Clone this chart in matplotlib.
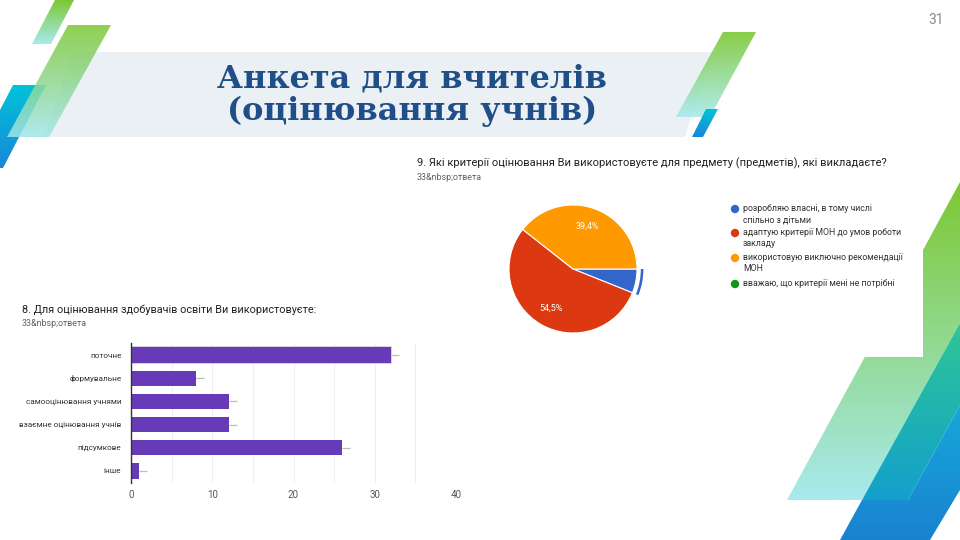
import numpy as np
import matplotlib
matplotlib.use('Agg')
import matplotlib.pyplot as plt
from matplotlib.patches import Polygon, Rectangle, Wedge, Circle
from matplotlib.colors import LinearSegmentedColormap

plt.rcParams['font.family'] = ['Roboto', 'DejaVu Sans']

# Data: question 8 (bar chart)
bar_title = '8. Для оцінювання здобувачів освіти Ви використовуєте:'
bar_labels = ['поточне', 'формувальне', 'самооцінювання учнями',
              'взаємне оцінювання учнів', 'підсумкове', 'інше']
bar_values = [32, 8, 12, 12, 26, 1]
bar_ticks = [0, 10, 20, 30, 40]

# Data: question 9 (pie chart)
pie_title = '9. Які критерії оцінювання Ви використовуєте для предмету (предметів), які викладаєте?'
pie_labels = ['розробляю власні, в тому числі\nспільно з дітьми',
              'адаптую критерії МОН до умов роботи\nзакладу',
              'використовую виключно рекомендації\nМОН',
              'вважаю, що критерії мені не потрібні']
pie_values = [2, 18, 13, 0]
pie_colors = ['#3366CC', '#DC3912', '#FF9900', '#109618']

responses = '33&nbsp;ответа'
slide_title = ['Анкета для вчителів', '(оцінювання учнів)']
page_no = '31'

W, H = 960, 540
fig = plt.figure(figsize=(9.6, 5.4), dpi=100)
fig.patch.set_facecolor('white')

bg = fig.add_axes([0, 0, 1, 1])
bg.set_xlim(0, W)
bg.set_ylim(H, 0)
bg.set_autoscale_on(False)
bg.axis('off')


def grad_poly(ax, pts, c_top, c_bot, alpha=1.0, z=1):
    poly = Polygon(pts, closed=True, facecolor='none', edgecolor='none')
    ax.add_patch(poly)
    xs = [p[0] for p in pts]
    ys = [p[1] for p in pts]
    cmap = LinearSegmentedColormap.from_list('g', [c_top, c_bot])
    grad = np.linspace(0, 1, 256).reshape(-1, 1)
    im = ax.imshow(grad, cmap=cmap, aspect='auto', alpha=alpha, zorder=z,
                   extent=(min(xs), max(xs), max(ys), min(ys)))
    im.set_clip_path(poly)


# title banner
bg.add_patch(Polygon([(72, 52), (713, 52), (685, 137), (45, 137)],
                     closed=True, facecolor='#EAF0F3', edgecolor='none', zorder=0.5))

# left decorations
grad_poly(bg, [(55, 0), (74, 0), (51, 44), (32, 44)], '#7CC832', '#A8EAEE', z=1)
grad_poly(bg, [(13, 85), (46, 85), (3, 168), (0, 168), (0, 110)], '#00C4D8', '#1A86D8', z=1)
grad_poly(bg, [(68, 25), (111, 25), (49, 137), (7, 137)], '#7CC832', '#A0E6EA', alpha=0.85, z=2)

# top right decorations
grad_poly(bg, [(723, 32), (756, 32), (710, 117), (676, 117)], '#7CC832', '#A8EAEE', alpha=0.9, z=2)
grad_poly(bg, [(706, 109), (718, 109), (703, 137), (692, 137)], '#00C4D8', '#1A86D8', z=2)

# bottom right decorations
grad_poly(bg, [(787, 500), (862, 500), (960, 323), (960, 182)], '#7CC832', '#A8EAEE', z=1)
grad_poly(bg, [(862, 500), (908, 500), (960, 405), (960, 323)], '#2EC696', '#12A0CC', z=1)
grad_poly(bg, [(840, 540), (930, 540), (960, 490), (960, 405), (908, 500), (862, 500)],
          '#16A8DA', '#1A82D0', z=1)

# white card behind pie chart
bg.add_patch(Rectangle((400, 150), 523, 207, facecolor='white', edgecolor='none', zorder=3))

# slide title
bg.text(412, 87, slide_title[0], ha='center', va='baseline', fontsize=23,
        fontweight='bold', family='DejaVu Serif', color='#1F4E89', zorder=4)
bg.text(412, 120, slide_title[1], ha='center', va='baseline', fontsize=23,
        fontweight='bold', family='DejaVu Serif', color='#1F4E89', zorder=4)
bg.text(936, 20, page_no, ha='center', va='center', fontsize=10, color='#8A8A8A', zorder=4)

# chart headings
bg.text(417, 163, pie_title, ha='left', va='center', fontsize=8, color='#202124', zorder=4)
bg.text(417, 177, responses, ha='left', va='center', fontsize=6.4, color='#5F6368', zorder=4)
bg.text(22, 310, bar_title, ha='left', va='center', fontsize=7.8, color='#202124', zorder=4)
bg.text(22, 324, responses, ha='left', va='center', fontsize=6.4, color='#5F6368', zorder=4)

# legend for pie chart
leg_y = [209, 233, 258, 284]
for yy, lab, col in zip(leg_y, pie_labels, pie_colors):
    bg.add_patch(Circle((735, yy), 4.2, facecolor=col, edgecolor='none', zorder=4))
    bg.text(743, yy - 5, lab, ha='left', va='top', fontsize=6.3, color='#333333',
            linespacing=1.35, zorder=4)

# pie chart
r_px = 64
lim = 1.15
cx, cy = 573, 269
side = 2 * lim * r_px
ax_pie = fig.add_axes([(cx - side / 2) / W, (H - cy - side / 2) / H, side / W, side / H])
ax_pie.set_zorder(5)
nz = [(v, c) for v, c in zip(pie_values, pie_colors) if v > 0]
vals = [v for v, c in nz]
cols = [c for v, c in nz]


def pct_label(p):
    return f'{p:.1f}%'.replace('.', ',') if p > 10 else ''


wedges, texts, autotexts = ax_pie.pie(
    vals, colors=cols, startangle=0, counterclock=False, radius=1,
    autopct=pct_label, pctdistance=0.7,
    wedgeprops=dict(edgecolor='white', linewidth=0.8),
    textprops=dict(color='white', fontsize=6.5))
w0 = wedges[0]
ax_pie.add_patch(Wedge((0, 0), 1.1, w0.theta1, w0.theta2, width=0.04,
                       facecolor=cols[0], edgecolor='none'))
ax_pie.set_xlim(-lim, lim)
ax_pie.set_ylim(-lim, lim)
ax_pie.set_aspect('equal')
ax_pie.axis('off')

# bar chart
ax_bar = fig.add_axes([131 / W, (H - 483) / H, 325 / W, 140 / H])
ax_bar.set_zorder(5)
ax_bar.patch.set_alpha(0)
ypos = np.arange(len(bar_values))
ax_bar.barh(ypos, bar_values, height=0.66, color='#673AB7', zorder=3)
ax_bar.barh(ypos[:1], bar_values[:1], height=0.72, facecolor='none',
            edgecolor='#D4D2E0', linewidth=1.4, zorder=2)
ax_bar.hlines(ypos, bar_values, np.array(bar_values) + 1, colors='#BDBDBD',
              linewidth=0.9, zorder=2)
ax_bar.set_xlim(0, 40)
ax_bar.set_ylim(len(bar_values) - 0.48, -0.52)
ax_bar.set_xticks(bar_ticks)
ax_bar.set_xticks(np.arange(5, 40, 10), minor=True)
ax_bar.grid(axis='x', which='both', color='#EEEEEE', linewidth=0.8, zorder=0)
ax_bar.set_yticks(ypos)
ax_bar.set_yticklabels(bar_labels)
ax_bar.tick_params(axis='y', length=0, pad=7, labelsize=5.9, labelcolor='#333333')
ax_bar.tick_params(axis='x', which='both', length=0, pad=5, labelsize=7, labelcolor='#555555')
for s in ['top', 'right', 'bottom']:
    ax_bar.spines[s].set_visible(False)
ax_bar.spines['left'].set_color('#333333')
ax_bar.spines['left'].set_linewidth(1)
ax_bar.spines['left'].set_zorder(4)

fig.savefig('out.png', dpi=100, facecolor='white')
